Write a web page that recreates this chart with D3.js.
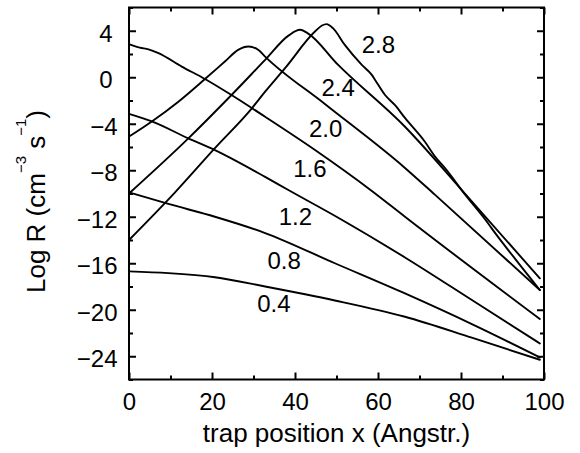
<!DOCTYPE html>
<html>
<head>
<meta charset="utf-8">
<script src="https://cdn.jsdelivr.net/npm/d3@7/dist/d3.min.js"></script>
<style>
  html, body { margin: 0; padding: 0; background: #fff; }
  svg { display: block; }
  text { font-family: "Liberation Sans", Arial, Helvetica, sans-serif; fill: #000; }
</style>
</head>
<body>
<svg id="chart" width="580" height="453"></svg>
<script>
// ---- data ----
const xMajorTicks = [0, 20, 40, 60, 80, 100];
const xMinorTicks = [10, 30, 50, 70, 90];
const yMajorTicks = [-24, -20, -16, -12, -8, -4, 0, 4];
const yMinorTicks = [-26, -22, -18, -14, -10, -6, -2, 2, 6];

const series04 = [[0,-16.7],[9.5,-16.85],[20.7,-17.2],[32.8,-18.0],[49.6,-19.2],[66.5,-20.6],[82.6,-22.4],[99,-24.3]];
const series08 = [[0,-9.9],[9.5,-10.9],[20.7,-12.0],[32.8,-13.4],[49.6,-16.0],[66.5,-18.6],[83,-21.3],[99,-24.1]];
const series12 = [[0,-3.15],[5.5,-3.8],[14.3,-5.26],[20.7,-6.27],[32.8,-8.57],[38.4,-9.7],[50,-12.0],[66.5,-15.5],[83,-19.25],[99,-22.9]];
const series16 = [[0,2.85],[2.6,2.55],[4.7,2.4],[7.1,2.07],[12.7,0.92],[18.3,-0.15],[24.7,-1.53],[32.8,-3.4],[45,-6.3],[58.6,-9.8],[66.5,-12.0],[99,-20.8]];
const series20 = [[0,-5.1],[5.5,-3.8],[11.9,-2.1],[18.3,-0.15],[23.1,1.35],[26.3,2.35],[28.8,2.64],[31.2,2.35],[32.8,1.78],[47.2,-2.3],[66.5,-7.8],[73.7,-10.1],[99,-18.3]];
const series24 = [[0,-10],[14.3,-5.26],[24.7,-1.53],[32.8,1.49],[38.5,3.6],[41.2,4.08],[43,3.8],[50.4,1.06],[66.5,-4.26],[80.2,-9.7],[99,-17.3]];
const series28 = [[0,-14],[11.1,-9.9],[20.7,-6.1],[29.6,-2.67],[32.8,-1.24],[37.6,0.78],[44.8,3.93],[46.5,4.45],[47.6,4.57],[49.2,4.2],[52,2.78],[56.1,1.06],[58.5,0.2],[59.3,-0.23],[61.7,-1.53],[64.1,-2.4],[66.5,-3.5],[71.3,-5.55],[73.7,-6.8],[76.1,-7.8],[81,-10.1],[86.6,-12.6],[87.4,-13.0],[93,-15.6],[99,-18.3]];

const curveLabels = ["2.8", "2.4", "2.0", "1.6", "1.2", "0.8", "0.4"];
const labelX = [60.1, 50.4, 47.4, 43.6, 40.1, 37.4, 34.9];
const labelY = [2.11, -1.59, -5.12, -8.57, -12.73, -16.53, -20.2];

const xTitle = "trap position x (Angstr.)";

// ---- layout ----
const svg = d3.select("#chart");
const padL = 129, padR = 544, padT = 7.5, padB = 379.5;
const x = d3.scaleLinear().domain([0, 100]).range([padL, padR]);
const y = d3.scaleLinear().domain([-26, 6]).range([padB, padT]);
const minus = v => (v < 0 ? "\u2212" + Math.abs(v) : String(v));

const majorLen = 7, minorLen = 4;

function styleAxis(g) {
  g.select(".domain").remove();
  g.selectAll(".tick line").attr("stroke", "#000").attr("stroke-width", 2);
}

// bottom axis with labels
const gB = svg.append("g").attr("transform", `translate(0,${padB})`)
  .call(d3.axisBottom(x).tickValues(xMajorTicks).tickSize(-majorLen).tickPadding(13.5).tickFormat(minus));
styleAxis(gB);
gB.selectAll("text").attr("font-size", 24).attr("font-family", "Liberation Sans, Arial, sans-serif").attr("fill", "#000");
const gBm = svg.append("g").attr("transform", `translate(0,${padB})`)
  .call(d3.axisBottom(x).tickValues(xMinorTicks).tickSize(-minorLen).tickFormat(""));
styleAxis(gBm);

// top axis
const gT = svg.append("g").attr("transform", `translate(0,${padT})`)
  .call(d3.axisTop(x).tickValues(xMajorTicks).tickSize(-majorLen).tickFormat(""));
styleAxis(gT);
const gTm = svg.append("g").attr("transform", `translate(0,${padT})`)
  .call(d3.axisTop(x).tickValues(xMinorTicks).tickSize(-minorLen).tickFormat(""));
styleAxis(gTm);

// left axis with labels
const gL = svg.append("g").attr("transform", `translate(${padL},0)`)
  .call(d3.axisLeft(y).tickValues(yMajorTicks).tickSize(-majorLen).tickPadding(11.5).tickFormat(minus));
styleAxis(gL);
gL.selectAll("text")
  .attr("font-size", 24).attr("font-family", "Liberation Sans, Arial, sans-serif").attr("fill", "#000")
  .attr("dy", "0.44em")
  .attr("x", d => (d < 0 ? -11.5 : -16.5));
const gLm = svg.append("g").attr("transform", `translate(${padL},0)`)
  .call(d3.axisLeft(y).tickValues(yMinorTicks).tickSize(-minorLen).tickFormat(""));
styleAxis(gLm);

// right axis
const gR = svg.append("g").attr("transform", `translate(${padR},0)`)
  .call(d3.axisRight(y).tickValues(yMajorTicks).tickSize(-majorLen).tickFormat(""));
styleAxis(gR);
const gRm = svg.append("g").attr("transform", `translate(${padR},0)`)
  .call(d3.axisRight(y).tickValues(yMinorTicks).tickSize(-minorLen).tickFormat(""));
styleAxis(gRm);

// frame
svg.append("rect")
  .attr("x", padL).attr("y", padT)
  .attr("width", padR - padL).attr("height", padB - padT)
  .attr("fill", "none").attr("stroke", "#000").attr("stroke-width", 2);

// curves
const allSeries = [series28, series24, series20, series16, series12, series08, series04];
const line = d3.line().x(d => x(d[0])).y(d => y(d[1])).curve(d3.curveMonotoneX);
svg.append("g").selectAll("path").data(allSeries).join("path")
  .attr("d", line)
  .attr("fill", "none").attr("stroke", "#000").attr("stroke-width", 1.9)
  .attr("stroke-linejoin", "round").attr("stroke-linecap", "round");

// curve labels
svg.append("g").selectAll("text").data(curveLabels).join("text")
  .attr("x", (d, i) => x(labelX[i]))
  .attr("y", (d, i) => y(labelY[i]))
  .attr("text-anchor", "middle")
  .attr("font-size", 24)
  .text(d => d);

// x title
svg.append("text")
  .attr("x", (padL + padR) / 2).attr("y", 442)
  .attr("text-anchor", "middle").attr("font-size", 26)
  .text(xTitle);

// y title with superscripts
const yt = svg.append("text")
  .attr("transform", `translate(45,201.5) rotate(-90)`)
  .attr("text-anchor", "middle").attr("font-size", 26);
yt.append("tspan").text("Log R (cm");
yt.append("tspan").attr("font-size", 15).attr("dy", -19).text("\u22123");
yt.append("tspan").attr("dy", 19).text(" s");
yt.append("tspan").attr("font-size", 15).attr("dy", -19).text("\u22121");
yt.append("tspan").attr("dy", 19).text(")");
</script>
</body>
</html>
